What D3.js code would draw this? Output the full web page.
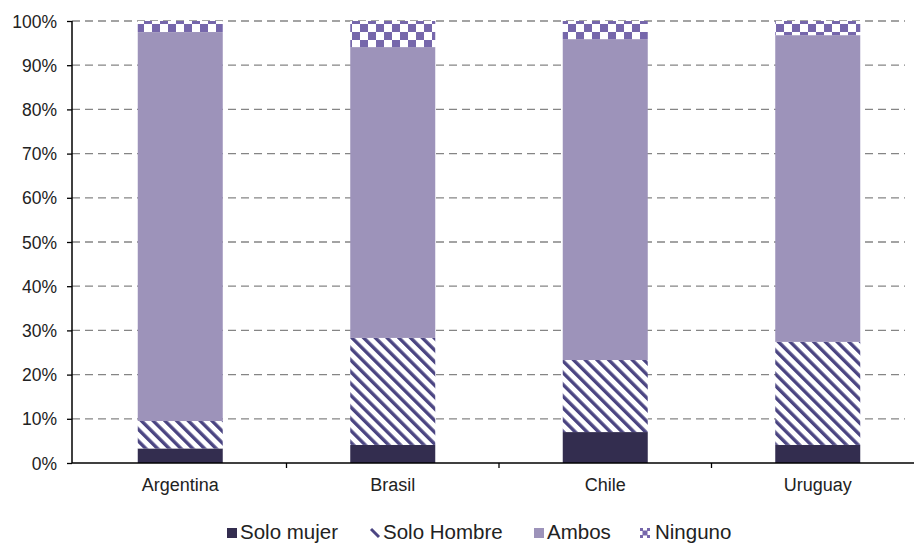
<!DOCTYPE html>
<html>
<head>
<meta charset="utf-8">
<script src="https://d3js.org/d3.v7.min.js"></script>
<style>
  body { margin: 0; background: #fff; }
  text { font-family: "Liberation Sans", Arial, sans-serif; fill: #222; }
</style>
</head>
<body>
<script>
// datos (porcentajes)
var paises = ["Argentina", "Brasil", "Chile", "Uruguay"];
var series = ["Solo mujer", "Solo Hombre", "Ambos", "Ninguno"];
var soloMujer = [3.3, 4.1, 7.0, 4.1];
var soloHombre = [6.2, 24.2, 16.3, 23.3];
var ambos = [88.0, 65.8, 72.6, 69.4];
var ninguno = [2.5, 5.9, 4.1, 3.2];
var yTicks = [0, 10, 20, 30, 40, 50, 60, 70, 80, 90, 100];

var width = 914, height = 544;
var x0 = 72, yTop = 21, yBot = 463;

var svg = d3.select("body").append("svg")
  .attr("width", width).attr("height", height);

// patrones
var defs = svg.append("defs");
var stripe = defs.append("pattern")
  .attr("id", "rayas").attr("patternUnits", "userSpaceOnUse")
  .attr("width", 8.3).attr("height", 8.3)
  .attr("patternTransform", "rotate(-45)");
stripe.append("rect").attr("width", 8.3).attr("height", 8.3).attr("fill", "#fff");
stripe.append("rect").attr("x", 0).attr("y", 0).attr("width", 3.4).attr("height", 8.3).attr("fill", "#4b4582");

var checker = defs.append("pattern")
  .attr("id", "cuadros").attr("patternUnits", "userSpaceOnUse")
  .attr("width", 16).attr("height", 16);
checker.append("rect").attr("width", 16).attr("height", 16).attr("fill", "#fff");
checker.append("rect").attr("x", 0).attr("y", 0).attr("width", 8).attr("height", 8).attr("fill", "#7667ab");
checker.append("rect").attr("x", 8).attr("y", 8).attr("width", 8).attr("height", 8).attr("fill", "#7667ab");

var fills = ["#332d4f", "url(#rayas)", "#9d93ba", "url(#cuadros)"];

var x = d3.scaleBand().domain(paises).range([74, 924]).paddingInner(0.6).paddingOuter(0.3);
var xStep = d3.scaleBand().domain(paises).range([74, 924]);
var y = d3.scaleLinear().domain([0, 100]).range([yBot, yTop]);

// líneas de cuadrícula
svg.append("g").selectAll("line").data(yTicks.slice(1)).join("line")
  .attr("x1", x0).attr("x2", 905)
  .attr("y1", function(d){ return y(d); }).attr("y2", function(d){ return y(d); })
  .attr("stroke", "#858585").attr("stroke-width", 1.3)
  .attr("stroke-dasharray", "8,5");

// barras apiladas
var tabla = paises.map(function(p, i){
  return { pais: p, "Solo mujer": soloMujer[i], "Solo Hombre": soloHombre[i], "Ambos": ambos[i], "Ninguno": ninguno[i] };
});
var pila = d3.stack().keys(series)(tabla);

svg.append("g").selectAll("g").data(pila).join("g")
  .attr("fill", function(d, i){ return fills[i]; })
  .selectAll("rect").data(function(d){ return d; }).join("rect")
  .attr("x", function(d){ return x(d.data.pais); })
  .attr("width", x.bandwidth())
  .attr("y", function(d){ return y(d[1]); })
  .attr("height", function(d){ return y(d[0]) - y(d[1]); });

// eje y
var yAxis = svg.append("g").attr("transform", "translate(" + x0 + ",0)")
  .call(d3.axisLeft(y).tickValues(yTicks).tickSize(5).tickFormat(function(d){ return d + "%"; }));
yAxis.select(".domain").attr("stroke", "#000").attr("stroke-width", 1.5).attr("d", "M0," + yTop + "V" + yBot);
yAxis.selectAll(".tick line").attr("stroke", "#000").attr("stroke-width", 1.3);
yAxis.selectAll(".tick text").attr("x", -15).attr("dy", "0.35em")
  .style("font-size", "17.5px").style("font-family", "Liberation Sans, Arial, sans-serif").attr("fill", "#222");

// eje x
svg.append("line").attr("x1", x0).attr("x2", 914).attr("y1", yBot).attr("y2", yBot)
  .attr("stroke", "#000").attr("stroke-width", 1.5);
svg.append("g").selectAll("line").data(paises.slice(1)).join("line")
  .attr("x1", function(d){ return xStep(d); }).attr("x2", function(d){ return xStep(d); })
  .attr("y1", yBot).attr("y2", yBot + 5).attr("stroke", "#000").attr("stroke-width", 1.3);
svg.append("g").selectAll("text").data(paises).join("text")
  .attr("x", function(d){ return x(d) + x.bandwidth() / 2; })
  .attr("y", 491).attr("text-anchor", "middle")
  .style("font-size", "18px").text(function(d){ return d; });

// leyenda
var leyX = [227, 370, 534, 640];
var ley = svg.append("g").selectAll("g").data(series).join("g")
  .attr("transform", function(d, i){ return "translate(" + leyX[i] + ",532)"; });
ley.each(function(d, i){
  var g = d3.select(this);
  if (i === 1) {
    g.append("line").attr("x1", 1).attr("y1", -3).attr("x2", 9).attr("y2", 5)
      .attr("stroke", "#4b4582").attr("stroke-width", 3);
  } else if (i === 3) {
    g.append("rect").attr("x", 0).attr("y", -4).attr("width", 10).attr("height", 10).attr("fill", "#7667ab");
    g.append("rect").attr("x", 0).attr("y", -1).attr("width", 2.5).attr("height", 4).attr("fill", "#fff");
    g.append("rect").attr("x", 7.5).attr("y", -1).attr("width", 2.5).attr("height", 4).attr("fill", "#fff");
    g.append("rect").attr("x", 3).attr("y", -4).attr("width", 4).attr("height", 2.5).attr("fill", "#fff");
    g.append("rect").attr("x", 3).attr("y", 3.5).attr("width", 4).attr("height", 2.5).attr("fill", "#fff");
  } else {
    g.append("rect").attr("x", 0).attr("y", -4).attr("width", 10).attr("height", 10).attr("fill", fills[i]);
  }
  g.append("text").attr("x", i === 3 ? 15 : 13).attr("dy", "0.36em").style("font-size", "20.5px").text(d);
});
</script>
</body>
</html>
